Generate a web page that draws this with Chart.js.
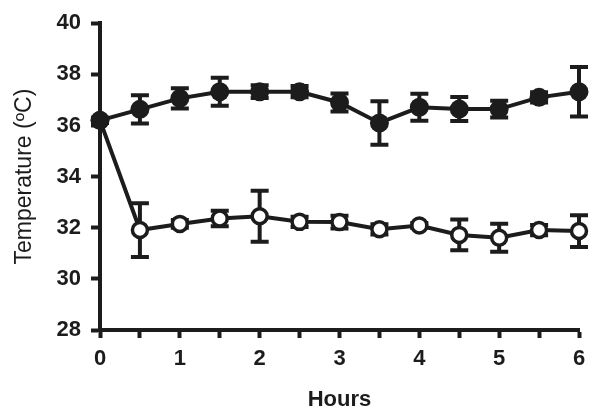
<!DOCTYPE html>
<html lang="en">
<head>
    <meta charset="UTF-8">
    <title>Temperature over time</title>
    <script src="https://cdn.jsdelivr.net/npm/chart.js"></script>
    <style>
        body { margin: 0; background: #fff; }
        canvas { display: block; }
    </style>
</head>
<body>
    <canvas id="tempChart" width="601" height="419"></canvas>
    <script>
        // hours sampled every half hour
        const hours = [0, 0.5, 1, 1.5, 2, 2.5, 3, 3.5, 4, 4.5, 5, 5.5, 6];

        // filled circles
        const filledMean = [36.2, 36.63, 37.06, 37.32, 37.32, 37.32, 36.9, 36.1, 36.71, 36.64, 36.64, 37.1, 37.32];
        const filledErr  = [0.1, 0.55, 0.4, 0.55, 0.25, 0.22, 0.35, 0.85, 0.53, 0.47, 0.33, 0.2, 0.97];

        // open circles
        const openMean = [36.2, 31.91, 32.15, 32.36, 32.45, 32.23, 32.22, 31.94, 32.09, 31.72, 31.61, 31.91, 31.87];
        const openErr  = [0.1, 1.05, 0.15, 0.3, 1.0, 0.2, 0.25, 0.2, 0.1, 0.6, 0.55, 0.2, 0.62];

        const yTicks = [28, 30, 32, 34, 36, 38, 40];
        const ink = '#1c1c1c';
        const fontFamily = 'Liberation Sans, Arial, sans-serif';

        const toPoints = (ys) => hours.map((h, i) => ({ x: h, y: ys[i] }));

        // draws the SD bars through the chart's own scales
        const errorBars = {
            id: 'errorBars',
            beforeDatasetsDraw(chart) {
                const ctx = chart.ctx;
                const xs = chart.scales.x;
                const ys = chart.scales.y;
                ctx.save();
                ctx.strokeStyle = ink;
                ctx.lineWidth = 4;
                ctx.lineCap = 'butt';
                chart.data.datasets.forEach(ds => {
                    ds.data.forEach((p, i) => {
                        const e = ds.errors[i];
                        const px = xs.getPixelForValue(p.x);
                        const top = ys.getPixelForValue(p.y + e);
                        const bot = ys.getPixelForValue(p.y - e);
                        ctx.beginPath();
                        ctx.moveTo(px, top);
                        ctx.lineTo(px, bot);
                        ctx.moveTo(px - 9, top);
                        ctx.lineTo(px + 9, top);
                        ctx.moveTo(px - 9, bot);
                        ctx.lineTo(px + 9, bot);
                        ctx.stroke();
                    });
                });
                ctx.restore();
            }
        };

        const ctx = document.getElementById('tempChart').getContext('2d');
        new Chart(ctx, {
            type: 'scatter',
            data: {
                datasets: [
                    {
                        label: 'filled',
                        data: toPoints(filledMean),
                        errors: filledErr,
                        showLine: true,
                        borderColor: ink,
                        borderWidth: 4,
                        pointRadius: 9.5,
                        pointBorderWidth: 0,
                        pointBackgroundColor: ink,
                        pointBorderColor: ink,
                        clip: false
                    },
                    {
                        label: 'open',
                        data: toPoints(openMean),
                        errors: openErr,
                        showLine: true,
                        borderColor: ink,
                        borderWidth: 4,
                        pointRadius: 7.5,
                        pointBorderWidth: 3.5,
                        pointBackgroundColor: '#fff',
                        pointBorderColor: ink,
                        clip: false
                    }
                ]
            },
            options: {
                responsive: false,
                animation: false,
                layout: { padding: { top: 20, right: 22, left: 0, bottom: 0 } },
                plugins: {
                    legend: { display: false },
                    tooltip: { enabled: false }
                },
                scales: {
                    x: {
                        type: 'linear',
                        min: 0,
                        max: 6,
                        afterFit: (axis) => { axis.height = 89; },
                        border: { display: true, color: ink, width: 4 },
                        grid: { drawOnChartArea: false, drawTicks: true, tickLength: 8, tickWidth: 4, tickColor: ink },
                        ticks: {
                            stepSize: 0.5,
                            padding: 8,
                            color: ink,
                            font: { family: fontFamily, size: 22, weight: 'bold' },
                            callback: (v) => Number.isInteger(v) ? v : ''
                        },
                        title: {
                            display: true,
                            text: 'Hours',
                            color: ink,
                            font: { family: fontFamily, size: 22, weight: 'bold' },
                            padding: { top: 10, bottom: 6 }
                        }
                    },
                    y: {
                        min: 28,
                        max: 40,
                        afterFit: (axis) => { axis.width = 100; },
                        afterBuildTicks: (axis) => { axis.ticks = yTicks.map(v => ({ value: v })); },
                        border: { display: true, color: ink, width: 4 },
                        grid: { drawOnChartArea: false, drawTicks: true, tickLength: 9, tickWidth: 4, tickColor: ink },
                        ticks: {
                            padding: 10,
                            color: ink,
                            font: { family: fontFamily, size: 22, weight: 'bold' }
                        },
                        title: {
                            display: true,
                            text: 'Temperature (ºC)',
                            color: ink,
                            font: { family: fontFamily, size: 23, weight: 'normal' },
                            padding: { top: 11, bottom: 0 }
                        }
                    }
                }
            },
            plugins: [errorBars]
        });
    </script>
</body>
</html>
